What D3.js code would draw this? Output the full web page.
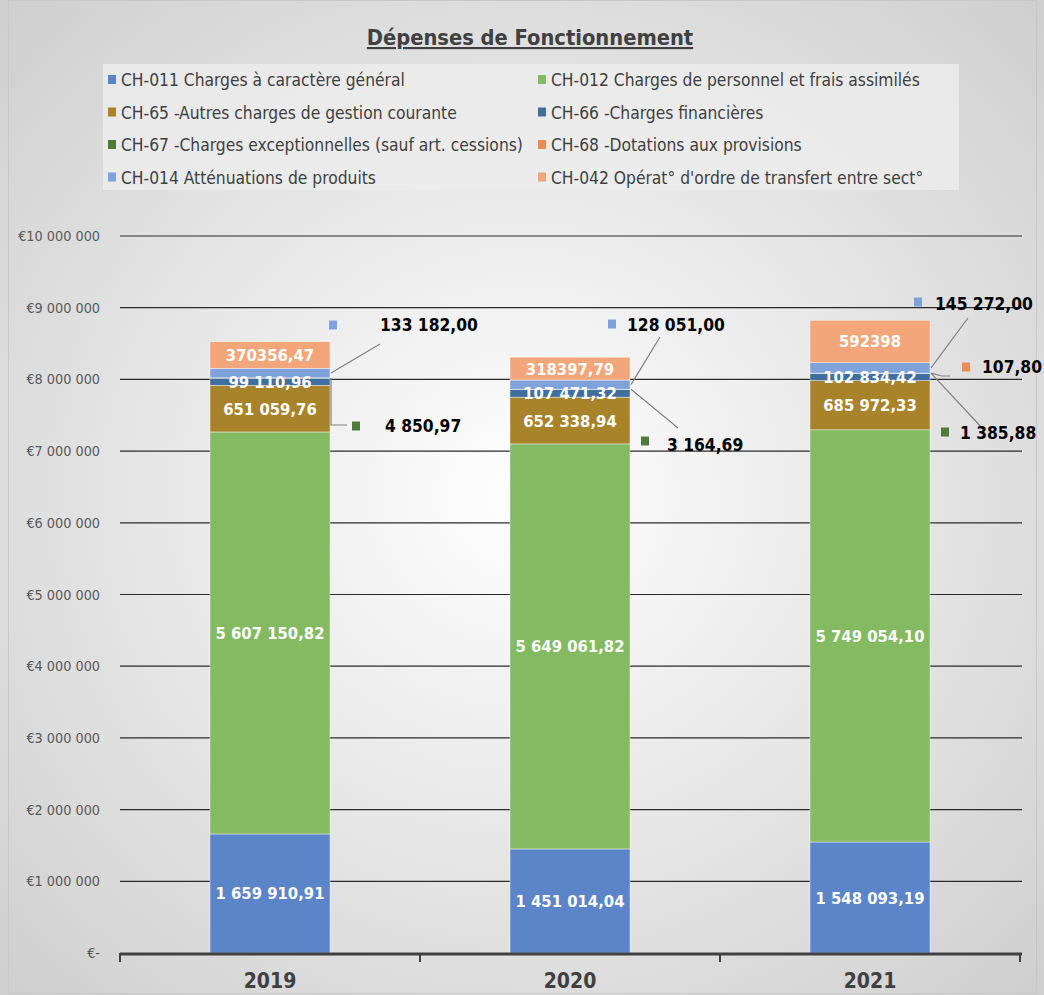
<!DOCTYPE html>
<html><head><meta charset="utf-8">
<script src="https://cdn.jsdelivr.net/npm/d3@7"></script>
<style>
html,body{margin:0;padding:0;background:#fff;}
svg text{font-family:"DejaVu Sans Condensed","DejaVu Sans",sans-serif;}
</style></head>
<body><svg id="c" width="1044" height="995"></svg>
<script>
const years = ["2019","2020","2021"];
const seriesNames = [
  "CH-011 Charges à caractère général",
  "CH-012 Charges de personnel et frais assimilés",
  "CH-65 -Autres charges de gestion courante",
  "CH-66 -Charges financières",
  "CH-67 -Charges exceptionnelles (sauf art. cessions)",
  "CH-68 -Dotations aux provisions",
  "CH-014 Atténuations de produits",
  "CH-042 Opérat° d'ordre de transfert entre sect°"
];
const ch011 = [1659910.91, 1451014.04, 1548093.19];
const ch012 = [5607150.82, 5649061.82, 5749054.10];
const ch65  = [651059.76, 652338.94, 685972.33];
const ch66  = [99110.96, 107471.32, 102834.42];
const ch67  = [4850.97, 3164.69, 1385.88];
const ch68  = [0, 0, 107.80];
const ch014 = [133182.00, 128051.00, 145272.00];
const ch042 = [370356.47, 318397.79, 592398];
const yTicks = [0,1e6,2e6,3e6,4e6,5e6,6e6,7e6,8e6,9e6,10e6];

const colors = ["#5b84c9","#84ba62","#a8832a","#3f6e9f","#4f7a3a","#ee8c4f","#7fa2dc","#f2a679"];
const seriesVals = [ch011,ch012,ch65,ch66,ch67,ch68,ch014,ch042];

const svg = d3.select("#c");
const defs = svg.append("defs");
const rg = defs.append("radialGradient").attr("id","bg").attr("cx","50%").attr("cy","50%").attr("r","70%");
rg.append("stop").attr("offset","0%").attr("stop-color","#ffffff");
rg.append("stop").attr("offset","100%").attr("stop-color","#cfcfcf");
svg.append("rect").attr("width",1044).attr("height",995).attr("fill","url(#bg)");
svg.append("rect").attr("x",8.5).attr("y",0.5).attr("width",1028).attr("height",993).attr("fill","none").attr("stroke","#c8c8c8");

// title
svg.append("text").attr("x",530).attr("y",45).attr("text-anchor","middle")
  .attr("font-size",21.7).attr("font-weight","bold").attr("fill","#404040")
  .attr("text-decoration","underline").text("Dépenses de Fonctionnement");

// legend
svg.append("rect").attr("x",103).attr("y",64).attr("width",856).attr("height",126).attr("fill","#ececec").attr("opacity",0.85);
seriesNames.forEach((n,i)=>{
  const col = i%2, row = Math.floor(i/2);
  const lx = col===0 ? 108 : 538, ly = 80 + row*32.5;
  svg.append("rect").attr("x",lx).attr("y",ly-5).attr("width",8).attr("height",9).attr("fill",colors[i]);
  svg.append("text").attr("x",lx+13).attr("y",ly+6).attr("font-size",17.3).attr("fill","#404040").text(n);
});

const x = d3.scaleBand().domain(years).range([120,1020]).paddingInner(0.6).paddingOuter(0.3);
const y = d3.scaleLinear().domain([0,10e6]).range([953,236]);

// gridlines
svg.append("g").selectAll("line").data(yTicks.slice(1)).join("line")
  .attr("x1",120).attr("x2",1022).attr("y1",d=>y(d)).attr("y2",d=>y(d))
  .attr("stroke","#2a2a2a").attr("stroke-width",1.2);

// y axis labels
const yfmt = d => d===0 ? "€-" : "€" + d3.format(",")(d).replace(/,/g," ");
svg.append("g").selectAll("text").data(yTicks).join("text")
  .attr("x",100).attr("y",d=>y(d)+5).attr("text-anchor","end")
  .attr("font-size",14.3).attr("fill","#595959").text(yfmt);

// stack
const table = years.map((yr,j)=>{const o={year:yr}; seriesVals.forEach((s,i)=>o["s"+i]=s[j]); return o;});
const keys = seriesVals.map((s,i)=>"s"+i);
const stacked = d3.stack().keys(keys)(table);

const fmtStd = v => d3.format(",.2f")(v).replace(/,/g," ").replace(".",",");
const fmt042 = v => Number.isInteger(v) ? String(v) : v.toFixed(2).replace(".",",");

const gBars = svg.append("g");
stacked.forEach((layer,i)=>{
  gBars.selectAll(null).data(layer).join("rect")
    .attr("x",d=>x(d.data.year)).attr("width",x.bandwidth())
    .attr("y",d=>y(d[1])).attr("height",d=>Math.max(0,y(d[0])-y(d[1])))
    .attr("fill",colors[i]).attr("stroke","#ffffff").attr("stroke-width",0.6).attr("stroke-opacity",0.7);
});

// inside labels for series 0,1,2,3,7
const inside = [0,1,2,3,7];
inside.forEach(i=>{
  svg.append("g").selectAll("text").data(stacked[i]).join("text")
    .attr("x",d=>x(d.data.year)+x.bandwidth()/2)
    .attr("y",d=>(y(d[0])+y(d[1]))/2+6)
    .attr("text-anchor","middle").attr("font-size",16.5).attr("font-weight","bold").attr("fill","#ffffff")
    .text(d=>i===7 ? fmt042(d.data["s7"]) : fmtStd(d.data["s"+i]));
});

// callouts (outside labels with leader lines)
const callouts = [
  {s:6,j:0,mx:333,my:325,tx:380,ty:331,line:[[331,373],[380,344]]},
  {s:4,j:0,mx:356,my:426,tx:385,ty:432,line:[[331,380],[331,425],[347,425]]},
  {s:6,j:1,mx:612,my:324,tx:627,ty:331,line:[[631,383],[660,337]]},
  {s:4,j:1,mx:645,my:441,tx:667,ty:451,line:[[631,385],[678,428]]},
  {s:6,j:2,mx:918,my:302,tx:935,ty:310,line:[[931,380],[968,318]]},
  {s:5,j:2,mx:966,my:367,tx:982,ty:373,line:[[931,381],[942,376],[950,376]]},
  {s:4,j:2,mx:945,my:432,tx:960,ty:439,line:[[931,383],[984,430]]}
];
callouts.forEach(c=>{
  const v = seriesVals[c.s][c.j];
  const seg = stacked[c.s][c.j];
  const bx = x(years[c.j]) + x.bandwidth();
  const segMid = (y(seg[0])+y(seg[1]))/2;
  const pts = c.line.map((p,k)=> k===0 ? [bx+1, segMid] : p);
  svg.append("path").attr("d",d3.line()(pts)).attr("fill","none").attr("stroke","#808080").attr("stroke-width",1.2);
  svg.append("rect").attr("x",c.mx-4).attr("y",c.my-4.5).attr("width",8).attr("height",9).attr("fill",colors[c.s]);
  svg.append("text").attr("x",c.tx).attr("y",c.ty).attr("font-size",17.3).attr("font-weight","bold").attr("fill","#000").text(fmtStd(v));
});

// x axis
svg.append("line").attr("x1",120).attr("x2",1022).attr("y1",954).attr("y2",954).attr("stroke","#404040").attr("stroke-width",3);
const tickPos = years.map(yr=>x(yr)-x.step()*0.3).concat([x(years[2])+x.bandwidth()+x.step()*0.3]);
svg.append("g").selectAll("line").data(tickPos).join("line")
  .attr("x1",d=>d).attr("x2",d=>d).attr("y1",953).attr("y2",962).attr("stroke","#404040").attr("stroke-width",2);
svg.append("g").selectAll("text").data(years).join("text")
  .attr("x",d=>x(d)+x.bandwidth()/2).attr("y",988).attr("text-anchor","middle")
  .attr("font-size",21).attr("font-weight","bold").attr("fill","#404040").text(d=>d);
</script></body></html>
